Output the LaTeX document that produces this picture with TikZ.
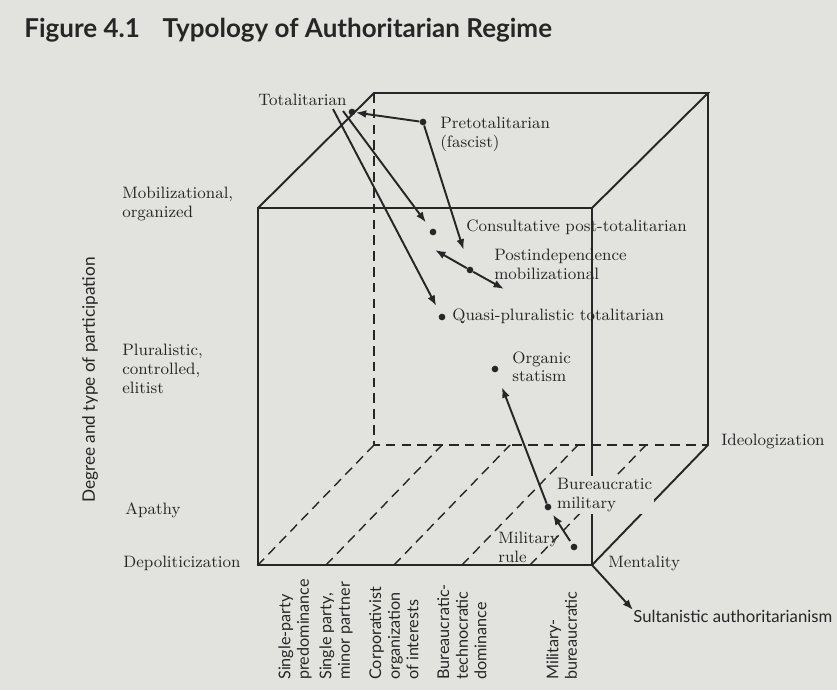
\documentclass[tikz,border=0pt]{standalone}
\usepackage{fontspec}
\newfontfamily\gillfont{Lato}
\definecolor{PaperGrey}{RGB}{226,226,223}
\definecolor{InkGrey}{RGB}{38,38,38}
\usetikzlibrary{arrows.meta, positioning}

\begin{document}
\begin{tikzpicture}[x=0.02cm, y=-0.02cm, text=InkGrey,
    font=\fontsize{9.4}{10.8}\selectfont,
    edge/.style={draw=InkGrey, line width=1.1pt},
    hidden/.style={draw=InkGrey, line width=0.8pt, dash pattern=on 5.5pt off 3.5pt},
    regime/.style={circle, fill=InkGrey, inner sep=0pt, minimum size=3.8pt},
    tag/.style={inner sep=0pt, anchor=north west, align=left},
    axistag/.style={tag, rotate=90, font=\gillfont\fontsize{9.2}{10.6}\selectfont},
    arr/.style={-{Latex[length=6pt, width=4.5pt]}, draw=InkGrey, line width=1.1pt}]

  % paper
  \fill[PaperGrey] (0,0) rectangle (837,690);
  \node[anchor=base west, inner sep=0pt, font=\gillfont\bfseries\fontsize{14.8}{17}\selectfont] (title) at (24,37)
    {Figure 4.1\hspace{13pt}Typology of Authoritarian Regime};

  % cube corners
  \coordinate (FTL) at (258,208);
  \coordinate (FTR) at (592,208);
  \coordinate (FBL) at (258,565);
  \coordinate (FBR) at (592,565);
  \coordinate (BTL) at (374,93);
  \coordinate (BTR) at (708,93);
  \coordinate (BBL) at (374,445);
  \coordinate (BBR) at (708,445);

  % hidden edges and floor columns
  \draw[hidden] (BTL) -- (BBL) -- (BBR);
  \draw[hidden] (BBL) -- (FBL);
  \foreach \i in {1,...,4}
    \draw[hidden] (258+68*\i,565) -- (374+68*\i,445);

  % visible edges
  \draw[edge] (FTL) -- (FTR) -- (FBR) -- (FBL) -- cycle;
  \draw[edge] (FTL) -- (BTL) -- (BTR) -- (FTR);
  \draw[edge] (BTR) -- (BBR) -- (FBR);

  % participation axis
  \node[tag] (mobil) at (122,187) {Mobilizational,\\organized};
  \node[tag] (plural) at (122,344) {Pluralistic,\\controlled,\\elitist};
  \node[tag] (apathy) at (125,502) {Apathy};
  \node[tag] (depol) at (123,556) {Depoliticization};
  \node[rotate=90, inner sep=0pt, font=\gillfont\fontsize{9.8}{11}\selectfont] (degree) at (90,380)
    {Degree and type of participation};

  % pluralism axis
  \node[axistag] (col1) at (278,680) {Single-party\\predominance};
  \node[axistag] (col2) at (319,680) {Single party,\\minor partner};
  \node[axistag] (col3) at (369,680) {Corporativist\\organization\\of interests};
  \node[axistag] (col4) at (437,680) {Bureaucratic-\\technocratic\\dominance};
  \node[axistag] (col5) at (546,680) {Military-\\bureaucratic};

  % ideology axis
  \node[tag] (ideolog) at (721,434) {Ideologization};
  \node[tag] (mental) at (608,556) {Mentality};
  \node[tag, font=\gillfont\fontsize{9.5}{11}\selectfont] (sultan) at (633,610) {Sultanistic authoritarianism};

  % regimes
  \node[regime] (tot) at (352,112) {};
  \node[regime] (pretot) at (423,122) {};
  \node[regime] (consult) at (433,232) {};
  \node[regime] (postind) at (470,270) {};
  \node[regime] (quasi) at (442,317) {};
  \node[regime] (organic) at (495,369) {};
  \node[regime] (burmil) at (548,507) {};
  \node[regime] (milrule) at (574,547) {};

  \node[anchor=base west, inner sep=0pt] (totlbl) at (258,105) {Totalitarian};
  \node[tag] (pretotlbl) at (440,117) {Pretotalitarian\\(fascist)};
  \node[tag] (consultlbl) at (466,219) {Consultative post-totalitarian};
  \node[tag] (postindlbl) at (494,249) {Postindependence\\mobilizational};
  \node[tag] (quasilbl) at (452,308) {Quasi-pluralistic totalitarian};
  \node[tag] (organiclbl) at (512,351) {Organic\\statism};
  \node[tag, fill=PaperGrey, inner sep=1pt] (burmillbl) at (555,476) {Bureaucratic\\military};
  \node[tag] (milrulelbl) at (498,532) {Military\\rule};

  \coordinate (totA) at (333,109);
  \coordinate (totB) at (343,111);
  \coordinate (postA) at (435,250);
  \coordinate (postB) at (504,289);

  \draw[arr] (pretot) -- (tot);
  \draw[arr, shorten >=10pt] (pretot) -- (postind);
  \draw[arr, shorten >=5pt] (totA) -- (quasi);
  \draw[arr, shorten >=4.7pt] (totB) -- (consult);
  \draw[arr] (postind) -- (postA);
  \draw[arr] (postind) -- (postB);
  \draw[arr, shorten >=9pt] (burmil) -- (organic);
  \draw[arr, shorten >=3pt, shorten <=2pt] (milrule) -- (burmil);
  \draw[arr] (FBR) -- (sultan.north west);
\end{tikzpicture}
\end{document}
